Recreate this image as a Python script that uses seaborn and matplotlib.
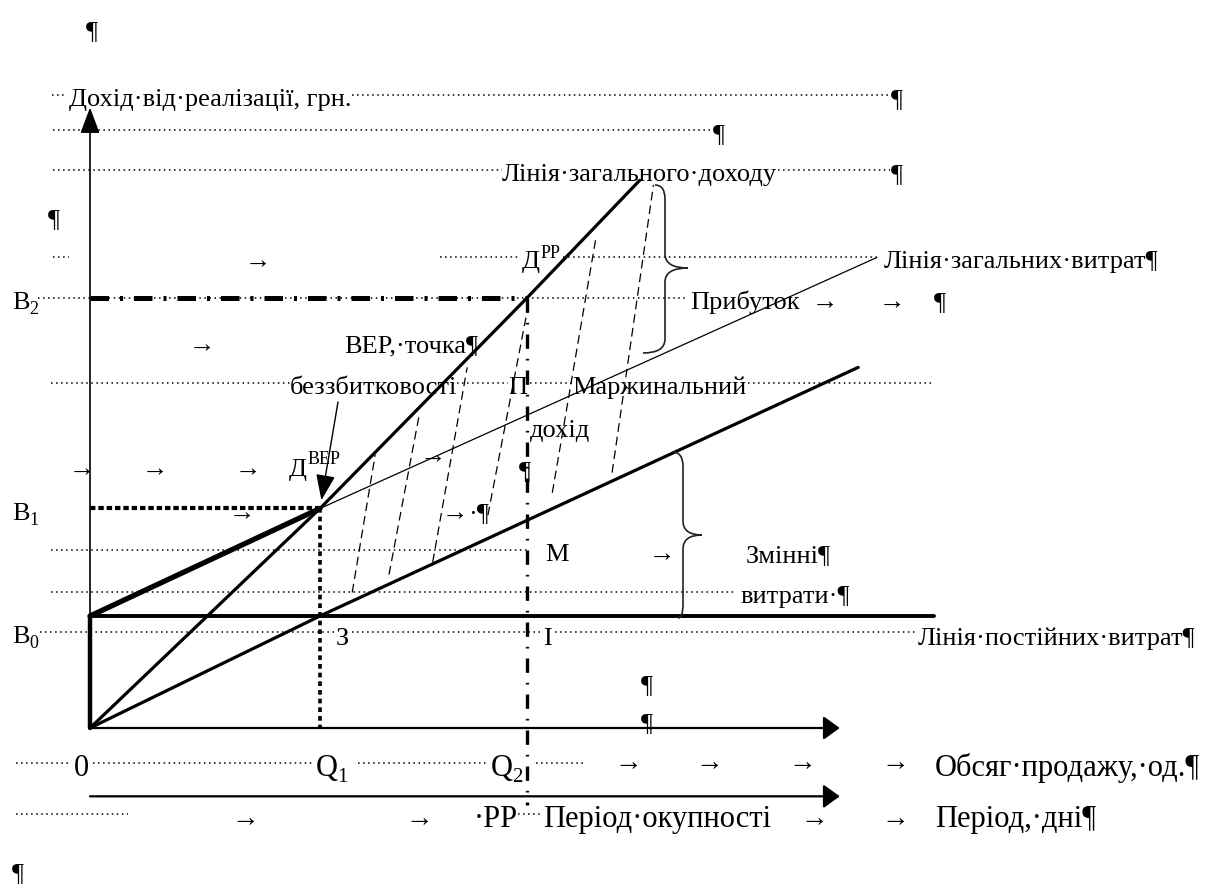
import matplotlib
matplotlib.use("Agg")
import matplotlib.pyplot as plt
import seaborn as sns
import pandas as pd
from matplotlib.path import Path
from matplotlib.patches import PathPatch

# ---------------- data (sales volume, units / revenue & costs, UAH) ----------------
revenue_q = [0, 100, 190, 239]
revenue_v = [0, 196, 384, 489]
fixed_q = [0, 367]
fixed_v = [100, 100]
variable_q = [0, 100, 334]
variable_v = [0, 100, 322]
total_start_q = [0, 100]
total_start_v = [100, 196]
total_q = [100, 342]
total_v = [196, 420]
q_bep, v_bep = 100, 196          # break-even point (Q1, B1)
q_pp, v_pp = 190, 384            # payback point (Q2, B2)
v_fixed = 100                    # B0
hatch_q0 = [114, 130, 149, 173, 201, 227]
hatch_v0 = [121, 137, 148, 190, 210, 228]
hatch_q1 = [124, 143, 164, 191, 220, 245]
hatch_v1 = [244, 278, 322, 382, 438, 485]
q_axis_end = 326
v_axis_end = 554
period_axis_v = -61
q2_line_bottom = -69

# ---------------- figure ----------------
W, H = 1222, 889
sns.set_theme(style="white")
plt.rcParams["font.family"] = ["Liberation Serif", "DejaVu Serif"]
FONT = ["Liberation Serif", "DejaVu Serif"]

fig = plt.figure(figsize=(W / 100, H / 100), dpi=100)
fig.patch.set_facecolor("white")
ax = fig.add_axes([0, 0, 1, 1])
ax.set_xlim(-90 / 2.3, (W - 90) / 2.3)
ax.set_ylim((728 - H) / 1.12, 728 / 1.12)
ax.axis("off")
deco = fig.add_axes([0, 0, 1, 1], facecolor="none")
deco.set_xlim(0, W)
deco.set_ylim(H, 0)
deco.axis("off")

K = "black"


def line(qs, vs, lw, ls="-", z=3):
    df = pd.DataFrame({"q": qs, "v": vs})
    sns.lineplot(data=df, x="q", y="v", ax=ax, color=K, lw=lw, linestyle=ls,
                 estimator=None, sort=False, zorder=z)


# leaders (tab dots) in page pixel space
leaders = [(52, 67, 95), (352, 890, 95), (53, 712, 130), (53, 502, 170), (778, 890, 170),
           (53, 69, 257), (440, 520, 257), (563, 880, 257), (38, 687, 298),
           (51, 290, 383), (457, 508, 383), (530, 573, 383), (748, 932, 383),
           (51, 527, 550), (51, 734, 592), (40, 334, 632), (352, 540, 632), (555, 916, 632),
           (16, 71, 763), (93, 314, 763), (358, 488, 763), (536, 585, 763),
           (16, 128, 814), (518, 540, 814)]
for x0, x1, y in leaders:
    deco.plot([x0, x1], [y, y], color=K, lw=1.1, linestyle=(0, (1, 2.3)), zorder=1)

# axes with arrows
ax.annotate("", xy=(0, v_axis_end), xytext=(0, 0),
            arrowprops=dict(arrowstyle="-|>,head_length=0.8,head_width=0.3", lw=1.2, color=K,
                            mutation_scale=20, shrinkA=0, shrinkB=0))
ax.annotate("", xy=(q_axis_end, 0), xytext=(0, 0),
            arrowprops=dict(arrowstyle="-|>,head_length=0.5,head_width=0.36", lw=1.6, color=K,
                            mutation_scale=20, shrinkA=0, shrinkB=0))
ax.annotate("", xy=(q_axis_end, period_axis_v), xytext=(0, period_axis_v),
            arrowprops=dict(arrowstyle="-|>,head_length=0.5,head_width=0.36", lw=1.6, color=K,
                            mutation_scale=20, shrinkA=0, shrinkB=0))
line([0, 0], [0, v_fixed], 3.2)

# main lines
line(fixed_q, fixed_v, 2.8)
line(revenue_q, revenue_v, 2.3)
line(variable_q, variable_v, 2.3)
line(total_start_q, total_start_v, 3.8)
line(total_q, total_v, 0.9)

# reference lines
line([0, q_pp], [v_pp, v_pp], 3.6, ls=(0, (3.7, 2.2, 0.6, 2.2)), z=2)
line([0, q_bep], [v_bep, v_bep], 3.0, ls=(0, (1.3, 0.7)), z=2)
line([q_bep, q_bep], [v_bep, 0], 2.6, ls=(0, (1.3, 1.1)), z=2)
line([q_pp, q_pp], [v_pp, q2_line_bottom], 2.4, ls=(0, (4.3, 3, 0.5, 3)), z=2)

# marginal income hatching
for a, b, c, d in zip(hatch_q0, hatch_v0, hatch_q1, hatch_v1):
    line([a, c], [b, d], 0.9, ls=(0, (7, 4)), z=2)


# braces
def brace(xt, yt, xs, xtip, ytip, xb, yb, r=14):
    verts = [(xt, yt), (xs, yt), (xs, yt + r), (xs, ytip - r), (xs, ytip), (xtip, ytip),
             (xs, ytip), (xs, ytip + r), (xs, yb - r), (xs, yb), (xb, yb)]
    codes = [Path.MOVETO, Path.CURVE3, Path.CURVE3, Path.LINETO, Path.CURVE3, Path.CURVE3,
             Path.CURVE3, Path.CURVE3, Path.LINETO, Path.CURVE3, Path.CURVE3]
    deco.add_patch(PathPatch(Path(verts, codes), fill=False, lw=1.2, edgecolor="#222222"))


brace(655, 185, 665, 688, 268, 643, 353)
brace(672, 452, 683, 702, 535, 678, 618)

# BEP arrow
ax.annotate("", xy=(q_bep, v_bep), xytext=(338, 402), textcoords=deco.transData,
            arrowprops=dict(arrowstyle="-|>,head_length=0.8,head_width=0.3", lw=1.0, color=K,
                            mutation_scale=20, shrinkA=0, shrinkB=6))


def T(x, y, s, size=19):
    deco.text(x, y, s, fontsize=size, family=FONT, va="baseline", ha="left", color=K, zorder=5)


T(86, 38, "¶")
T(69, 106, "Дохід·від·реалізації, грн.")
T(891, 106, "¶")
T(713, 141, "¶")
T(502, 181, "Лінія·загального·доходу")
T(891, 181, "¶")
T(48, 226, "¶")
T(245, 268, "→")
T(522, 268, "Д")
T(541, 258, "PP", 13)
T(884, 268, "Лінія·загальних·витрат¶")
T(12, 309, "В")
T(29, 314, "2", 13)
T(690, 309, "Прибуток")
T(812, 309, "→")
T(879, 309, "→")
T(934, 309, "¶")
T(189, 352, "→")
T(344, 352, "BEP,·точка¶")
T(290, 394, "беззбитковості")
T(508, 394, "П")
T(572, 394, "Маржинальний")
T(530, 437, "дохід")
for xa in (69, 142, 235):
    T(xa, 476, "→")
T(289, 476, "Д")
T(308, 464, "BEP", 13)
T(420, 463, "→")
T(519, 478, "¶")
T(12, 520, "В")
T(29, 525, "1", 13)
T(229, 520, "→")
T(442, 520, "→")
T(468, 520, "·¶")
T(545, 561, "М")
T(649, 561, "→")
T(746, 562, "Змінні¶")
T(740, 603, "витрати·¶")
T(12, 643, "В")
T(29, 648, "0", 13)
T(336, 645, "З")
T(543, 645, "І")
T(918, 645, "Лінія·постійних·витрат¶")
T(641, 692, "¶")
T(641, 730, "¶")
T(74, 776, "0", 22)
T(316, 776, "Q", 22)
T(337, 782, "1", 15)
T(491, 776, "Q", 22)
T(512, 782, "2", 15)
for xa in (614, 695, 788, 881):
    T(xa, 770, "→", 20)
T(935, 776, "Обсяг·продажу,·од.¶", 22)
T(231, 826, "→", 20)
T(405, 826, "→", 20)
T(474, 827, "·PP", 22)
T(543, 827, "Період·окупності", 22)
T(800, 826, "→", 20)
T(881, 826, "→", 20)
T(935, 827, "Період,·дні¶", 22)
T(12, 880, "¶")

fig.savefig("out.png", dpi=100, facecolor="white")
